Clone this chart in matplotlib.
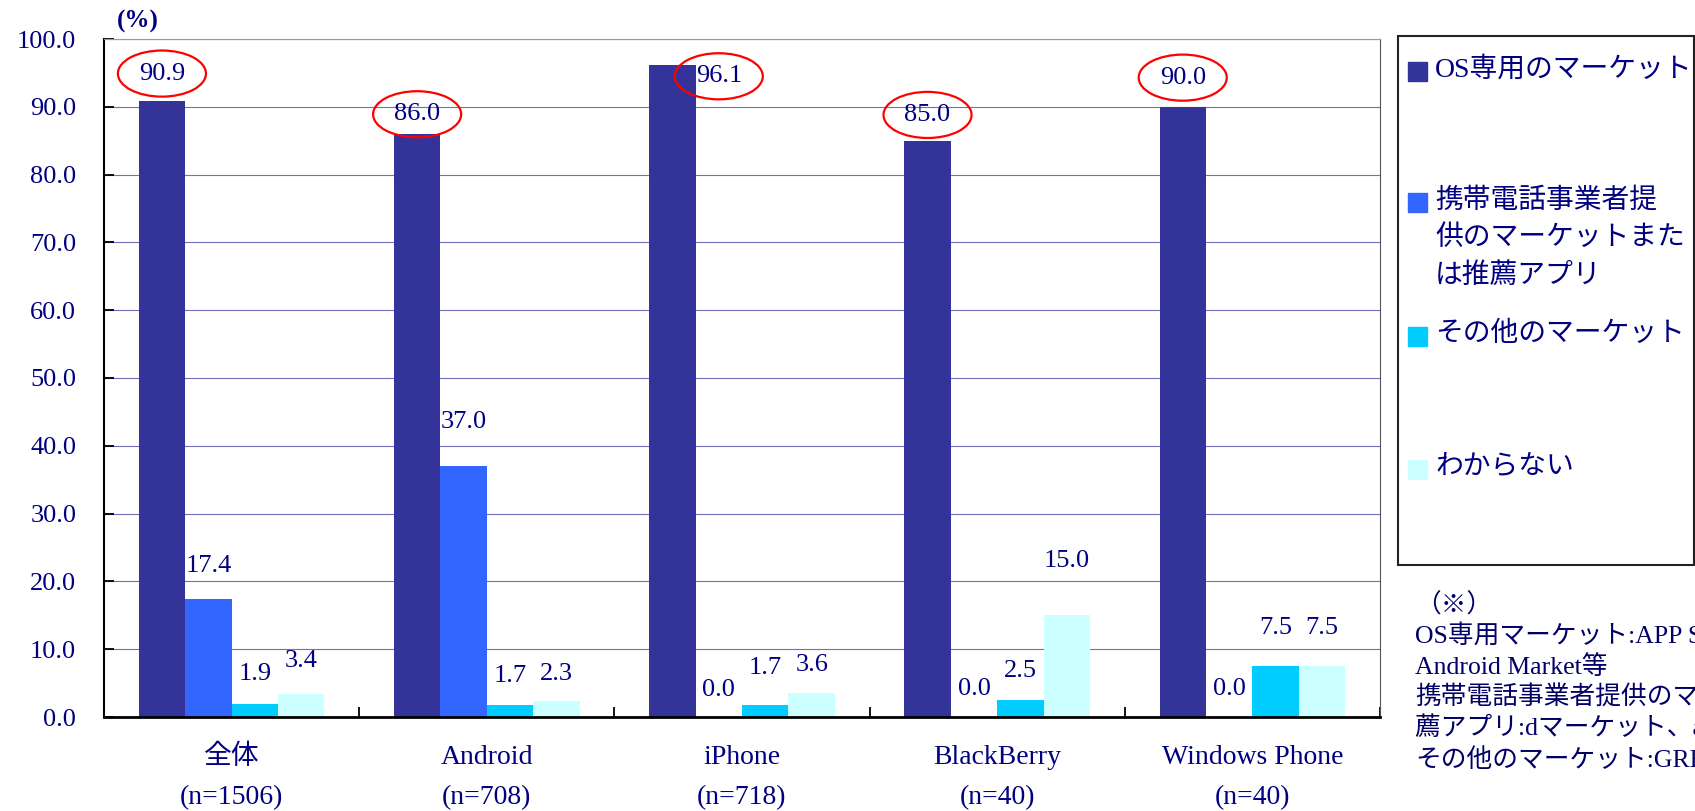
import numpy as np
import matplotlib.pyplot as plt
from matplotlib.patches import Ellipse, Rectangle

plt.rcParams['font.family'] = ['Liberation Serif', 'Noto Sans CJK JP']

# データ
groups = ['全体', 'Android', 'iPhone', 'BlackBerry', 'Windows Phone']
group_n = ['(n=1506)', '(n=708)', '(n=718)', '(n=40)', '(n=40)']
series = ['OS専用のマーケット',
          '携帯電話事業者提\n供のマーケットまた\nは推薦アプリ',
          'その他のマーケット',
          'わからない']
os_market = [90.9, 86.0, 96.1, 85.0, 90.0]
carrier = [17.4, 37.0, 0.0, 0.0, 0.0]
other = [1.9, 1.7, 1.7, 2.5, 7.5]
unknown = [3.4, 2.3, 3.6, 15.0, 7.5]
values = [os_market, carrier, other, unknown]

notes = ['（※）',
         'OS専用マーケット:APP Store、',
         'Android Market等',
         '携帯電話事業者提供のマーケット・推',
         '薦アプリ:dマーケット、au one Market等',
         'その他のマーケット:GREE、Mobage等']

colors = ['#333399', '#3366FF', '#00CCFF', '#CCFFFF']
navy = '#000080'

# ラベル位置の手動調整（Excel風）
label_dy = [[4.0, 2.9, -1.6, 3.8, 4.3],
            [4.9, 6.5, 4.0, 4.1, 4.1],
            [4.5, 4.3, 5.6, 4.3, 5.7],
            [4.8, 4.1, 4.0, 8.0, 5.7]]
label_dx = [[0, 0, 1, 0, 0]] + [[0] * 5] * 3

W, H = 1695, 811
fig = plt.figure(figsize=(W / 100, H / 100), dpi=100)
ax = fig.add_axes([104 / W, 1 - 717 / H, (1380 - 104) / W, (717 - 39) / H])

x = np.arange(len(groups))
bw = 0.182
for i, vals in enumerate(values):
    xs = x + (i - 1.5) * bw
    ax.bar(xs, vals, bw, color=colors[i], zorder=2)
    for j, v in enumerate(vals):
        lx = xs[j] + label_dx[i][j] * bw
        ly = v + label_dy[i][j]
        ax.text(lx, ly, f'{v:.1f}', ha='center', va='center', fontsize=19,
                color=navy, zorder=4)
        if i == 0:
            ax.add_patch(Ellipse((lx, ly), 0.345, 6.8, fill=False,
                                 edgecolor='#FF0000', lw=1.6, zorder=5,
                                 clip_on=False))

ax.set_xlim(-0.5, len(groups) - 0.5)
ax.set_ylim(0, 100)
ax.set_yticks(np.arange(0, 101, 10))
ax.set_yticklabels([f'{t:.1f}' for t in np.arange(0, 101, 10)])
ax.set_xticks(x)
ax.set_xticklabels([f'{g}\n{n}' for g, n in zip(groups, group_n)],
                   linespacing=1.8)
ax.set_xticks(np.arange(len(groups) + 1) - 0.5, minor=True)
ax.tick_params(axis='x', which='major', length=0, pad=20, labelsize=20,
               labelcolor=navy)
ax.tick_params(axis='x', which='minor', direction='in', length=7, width=1.3)
ax.tick_params(axis='y', direction='in', length=7, width=1.3, pad=20,
               labelsize=19, labelcolor=navy)

ax.yaxis.grid(True, color='#7070B8', lw=0.8)
ax.set_axisbelow(True)
ax.spines['left'].set_linewidth(1.5)
ax.spines['bottom'].set_linewidth(2)
ax.spines['top'].set_color('#999999')
ax.spines['right'].set_color('#555555')

fig.text(138 / W, 1 - 21 / H, '(%)', ha='center', va='center', fontsize=18,
         fontweight='bold', color=navy)

# 凡例（手描き）
fig.patches.append(Rectangle((1398 / W, 1 - 565 / H), 296 / W, 529 / H,
                             transform=fig.transFigure, fill=False,
                             edgecolor='#222222', lw=1.5))
entry_y = [71, 202, 336, 469]
for name, c, yy in zip(series, colors, entry_y):
    fig.patches.append(Rectangle((1408 / W, 1 - (yy + 10) / H), 19 / W, 19 / H,
                                 transform=fig.transFigure, color=c))
    fig.text(1435 / W, 1 - (yy - 14) / H, name, ha='left', va='top',
             fontsize=20, color=navy, linespacing=1.6)

# 注記
for k, line in enumerate(notes):
    fig.text(1415 / W, 1 - (605 + k * 30.8) / H, line, ha='left', va='center',
             fontsize=18.5, color='#000066')

fig.savefig('out.png', dpi=100)
